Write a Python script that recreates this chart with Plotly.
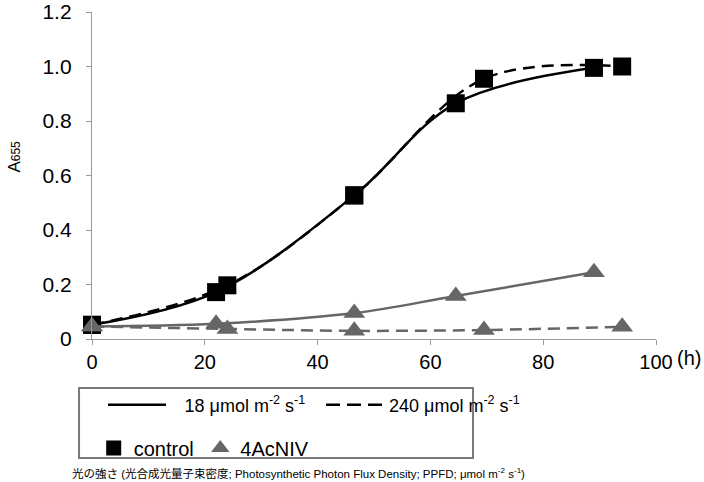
import plotly.graph_objects as go

# ---- data ----
t_18 = [0, 22, 46.5, 64.5, 89]
t_240 = [0, 24, 46.5, 69.5, 94]
control_18 = [0.052, 0.172, 0.527, 0.865, 0.995]
control_240 = [0.052, 0.197, 0.527, 0.955, 1.0]
acniv_18 = [0.046, 0.056, 0.095, 0.158, 0.245]
acniv_240 = [0.046, 0.037, 0.030, 0.033, 0.045]

x_tickvals = [0, 20, 40, 60, 80, 100]
x_ticktext = ["0", "20", "40", "60", "80", "100"]
y_tickvals = [0, 0.2, 0.4, 0.6, 0.8, 1.0, 1.2]
y_ticktext = ["0", "0.2", "0.4", "0.6", "0.8", "1.0", "1.2"]

label_18 = "18 μmol m<sup>-2</sup> s<sup>-1</sup>"
label_240 = "240 μmol m<sup>-2</sup> s<sup>-1</sup>"
label_ctrl = "control"
label_acniv = "4AcNIV"
caption = ("光の強さ (光合成光量子束密度; Photosynthetic Photon Flux Density; PPFD; "
           "μmol m<sup>-2</sup> s<sup>-1</sup>)")

BLACK = "#000000"
GRAY = "#666666"
FONT = "Liberation Sans, Arial, Noto Sans CJK JP, sans-serif"
DASH = "12px,7px"

fig = go.Figure()

def series(x, y, color, dash, symbol, width):
    fig.add_trace(go.Scatter(
        x=x, y=y, mode="lines+markers", showlegend=False,
        line=dict(color=color, dash=dash, width=width, shape="spline"),
        marker=dict(symbol=symbol, size=18 if symbol == "square" else 19, color=color),
        cliponaxis=False,
    ))

series(t_240, control_240, BLACK, DASH, "square", 2.5)
series(t_18, control_18, BLACK, "solid", "square", 2.5)
series(t_240, acniv_240, GRAY, DASH, "triangle-up", 2.5)
series(t_18, acniv_18, GRAY, "solid", "triangle-up", 2.5)

# legend entries (one legend per entry for exact placement)
fig.add_trace(go.Scatter(x=[None], y=[None], mode="lines", name="\u2002\u2005" + label_18,
                         line=dict(color=BLACK, width=2.5), legend="legend"))
fig.add_trace(go.Scatter(x=[None], y=[None], mode="lines", name=label_240,
                         line=dict(color=BLACK, width=2.5, dash="14px,7px"), legend="legend2"))
fig.add_trace(go.Scatter(x=[None], y=[None], mode="markers", name=label_ctrl,
                         marker=dict(symbol="square", size=15, color=BLACK), legend="legend3"))
fig.add_trace(go.Scatter(x=[None], y=[None], mode="markers", name=label_acniv,
                         marker=dict(symbol="triangle-up", size=16, color=GRAY), legend="legend4"))

axis_common = dict(showgrid=False, zeroline=False, showline=True, linecolor="#9a9a9a",
                   linewidth=1.3, ticks="outside", ticklen=5, tickcolor="#9a9a9a")

fig.update_xaxes(range=[0, 100], tickvals=x_tickvals, ticktext=x_ticktext,
                 tickfont=dict(family=FONT, size=20, color=BLACK), **axis_common)
fig.update_yaxes(range=[0, 1.2], tickvals=y_tickvals, ticktext=y_ticktext,
                 tickfont=dict(family=FONT, size=21, color=BLACK),
                 ticklabelstandoff=10, **axis_common)

leg = dict(orientation="h", xanchor="left", yanchor="middle",
           bgcolor="rgba(0,0,0,0)", traceorder="normal")

fig.update_layout(
    width=704, height=482,
    margin=dict(l=92, r=48, t=12, b=143, autoexpand=False),
    plot_bgcolor="white", paper_bgcolor="white",
    font=dict(family=FONT, color=BLACK),
    legend=dict(x=0.0195, y=-0.202, font=dict(size=18), itemwidth=58, **leg),
    legend2=dict(x=0.406, y=-0.202, font=dict(size=18), itemwidth=58, **leg),
    legend3=dict(x=0.003, y=-0.333, font=dict(size=20), itemwidth=30, **leg),
    legend4=dict(x=0.192, y=-0.333, font=dict(size=20), itemwidth=30, **leg),
    shapes=[dict(type="rect", xref="paper", yref="paper",
                 x0=-0.023, x1=0.6755, y0=-0.15, y1=-0.364,
                 line=dict(color="#7a7a7a", width=2))],
    annotations=[
        dict(text="(h)", xref="x", yref="paper", x=100, y=0, xanchor="left",
             yanchor="middle", xshift=19, yshift=-19, showarrow=False,
             font=dict(family=FONT, size=20, color=BLACK)),
        dict(text="A<span style='font-size:12px'>655</span>", xref="paper", yref="paper",
             x=-0.137, y=0.557,
             textangle=-90, showarrow=False, xanchor="center", yanchor="middle",
             font=dict(family=FONT, size=17, color=BLACK)),
        dict(text=caption, xref="paper", yref="paper", x=-0.039, y=-0.41,
             xanchor="left", yanchor="middle", showarrow=False,
             font=dict(family=FONT, size=11.5, color=BLACK)),
    ],
)

fig.write_html("out.html", post_script="document.body.style.margin='0';",
               config={"displayModeBar": False})
